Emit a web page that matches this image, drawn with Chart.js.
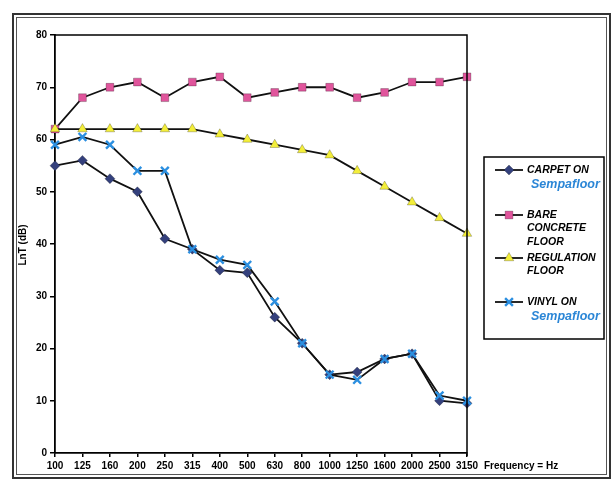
<!DOCTYPE html>
<html>
<head>
<meta charset="utf-8">
<script src="https://cdn.jsdelivr.net/npm/chart.js@4.4.0/dist/chart.umd.min.js"></script>
<style>
  html, body { margin: 0; padding: 0; background: #fff; }
  #wrap { width: 616px; height: 480px; position: relative; }
</style>
</head>
<body>
<div id="wrap"><canvas id="myChart" width="616" height="480"></canvas></div>
<script>
// frequency bands (Hz)
var freqs = ["100", "125", "160", "200", "250", "315", "400", "500", "630", "800", "1000", "1250", "1600", "2000", "2500", "3150"];

// LnT values (dB)
var carpet     = [55, 56, 52.5, 50, 41, 39, 35, 34.5, 26, 21, 15, 15.5, 18, 19, 10, 9.5];
var concrete   = [62, 68, 70, 71, 68, 71, 72, 68, 69, 70, 70, 68, 69, 71, 71, 72];
var regulation = [62, 62, 62, 62, 62, 62, 61, 60, 59, 58, 57, 54, 51, 48, 45, 42];
var vinyl      = [59, 60.5, 59, 54, 54, 39, 37, 36, 29, 21, 15, 14, 18, 19, 11, 10];

var yTicks = { min: 0, max: 80, step: 10 };

var FONT = "'Liberation Sans', Arial, sans-serif";

// legend entries: first line(s) black, optional blue brand line
var legendRows = [
  { ds: 0, y: 170, lines: ["CARPET ON"], brand: "Sempafloor" },
  { ds: 1, y: 215, lines: ["BARE", "CONCRETE", "FLOOR"] },
  { ds: 2, y: 258, lines: ["REGULATION", "FLOOR"] },
  { ds: 3, y: 302, lines: ["VINYL ON"], brand: "Sempafloor" }
];

function series(label, data, color, style, radius, order) {
  return {
    label: label,
    data: data,
    borderColor: "#111",
    borderWidth: 1.8,
    pointStyle: style,
    pointRadius: radius,
    pointBackgroundColor: color,
    pointBorderColor: style === "crossRot" ? color : "rgba(0,0,0,0.3)",
    pointBorderWidth: style === "crossRot" ? 2.4 : 0.8,
    tension: 0,
    fill: false,
    order: order
  };
}

var extras = {
  id: "extras",
  afterDraw: function(chart) {
    var ctx = chart.ctx;
    var a = chart.chartArea;
    ctx.save();

    // top and right edges of the plot box
    ctx.strokeStyle = "#000";
    ctx.lineWidth = 1.5;
    ctx.beginPath();
    ctx.moveTo(a.left, a.top);
    ctx.lineTo(a.right, a.top);
    ctx.lineTo(a.right, a.bottom + 3);
    ctx.stroke();

    // outer double frame
    ctx.strokeStyle = "#333";
    ctx.lineWidth = 2;
    ctx.strokeRect(13, 14, 597, 464);
    ctx.lineWidth = 1;
    ctx.strokeStyle = "#555";
    ctx.strokeRect(16.5, 17.5, 590, 457);

    // y title
    ctx.fillStyle = "#000";
    ctx.font = "bold 10px " + FONT;
    ctx.textAlign = "center";
    ctx.textBaseline = "middle";
    ctx.translate(23, 245);
    ctx.rotate(-Math.PI / 2);
    ctx.fillText("LnT (dB)", 0, 0);
    ctx.setTransform(chart.currentDevicePixelRatio, 0, 0, chart.currentDevicePixelRatio, 0, 0);

    // x title
    ctx.textAlign = "left";
    ctx.fillText("Frequency = Hz", 484, 466);

    // legend box
    ctx.strokeStyle = "#000";
    ctx.lineWidth = 1.5;
    ctx.strokeRect(484, 157, 120, 182);

    legendRows.forEach(function(row) {
      var ds = chart.data.datasets[row.ds];
      ctx.strokeStyle = "#111";
      ctx.lineWidth = 1.8;
      ctx.beginPath();
      ctx.moveTo(495, row.y);
      ctx.lineTo(523, row.y);
      ctx.stroke();
      ctx.fillStyle = ds.pointBackgroundColor;
      ctx.strokeStyle = ds.pointBorderColor;
      ctx.lineWidth = ds.pointBorderWidth;
      Chart.helpers.drawPoint(ctx, {
        pointStyle: ds.pointStyle, radius: ds.pointRadius, rotation: 0, borderWidth: ds.pointBorderWidth
      }, 509, row.y);

      ctx.fillStyle = "#000";
      ctx.font = "italic bold 10.5px " + FONT;
      ctx.textAlign = "left";
      ctx.textBaseline = "middle";
      var y = row.y;
      row.lines.forEach(function(t) {
        ctx.fillText(t, 527, y);
        y += 13.5;
      });
      if (row.brand) {
        ctx.fillStyle = "#2b86d6";
        ctx.font = "italic bold 12.5px " + FONT;
        ctx.fillText(row.brand, 531, y + 1);
      }
    });
    ctx.restore();
  }
};

var ctx = document.getElementById("myChart");

var myChart = new Chart(ctx, {
  type: "line",
  data: {
    labels: freqs,
    datasets: [
      series("CARPET ON Sempafloor", carpet, "#34407c", "rectRot", 5, 2),
      series("BARE CONCRETE FLOOR", concrete, "#e0559c", "rect", 5.5, 3),
      series("REGULATION FLOOR", regulation, "#f3ee3a", "triangle", 5.5, 1),
      series("VINYL ON Sempafloor", vinyl, "#2b8fe0", "crossRot", 5.5, 0)
    ]
  },
  plugins: [extras],
  options: {
    responsive: false,
    animation: false,
    layout: { padding: { left: 0, top: 35, right: 149, bottom: 0 } },
    plugins: { legend: { display: false }, tooltip: { enabled: false } },
    scales: {
      x: {
        type: "category",
        offset: false,
        grid: { drawOnChartArea: false, drawTicks: true, tickLength: 4, color: "#000", lineWidth: 1.5 },
        border: { display: true, color: "#000", width: 1.8 },
        ticks: { color: "#000", font: { family: FONT, weight: "bold", size: 10 }, maxRotation: 0, autoSkip: false, padding: 3 },
        afterFit: function(scale) { scale.height = 27; }
      },
      y: {
        min: yTicks.min,
        max: yTicks.max,
        grid: { drawOnChartArea: false, drawTicks: true, tickLength: 5, color: "#000", lineWidth: 1.5 },
        border: { display: true, color: "#000", width: 1.8 },
        ticks: { stepSize: yTicks.step, color: "#000", font: { family: FONT, weight: "bold", size: 10 }, padding: 3 },
        afterFit: function(scale) { scale.width = 55; }
      }
    }
  }
});
</script>
</body>
</html>
